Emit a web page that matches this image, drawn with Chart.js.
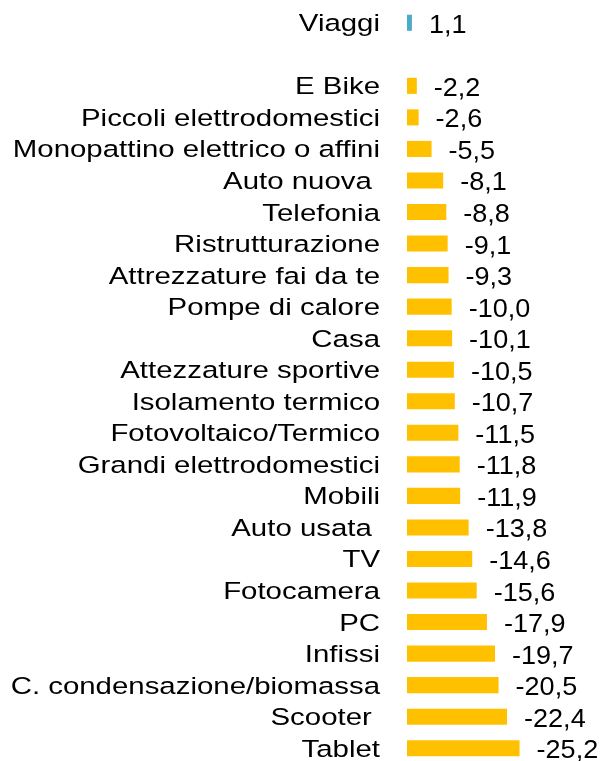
<!DOCTYPE html>
<html>
<head>
<meta charset="utf-8">
<script src="https://cdn.jsdelivr.net/npm/chart.js@4"></script>
<style>
  html, body { margin: 0; padding: 0; background: #fff; overflow: hidden; }
  #wrap { position: absolute; left: 0; top: 0; width: 603px; height: 764px; }
</style>
</head>
<body>
<div id="wrap"><canvas id="chart"></canvas></div>
<script>
// categorie (la riga vuota separa Viaggi dal resto)
const categories = [
  'Viaggi', '', 'E Bike', 'Piccoli elettrodomestici', 'Monopattino elettrico o affini',
  'Auto nuova ', 'Telefonia', 'Ristrutturazione', 'Attrezzature fai da te',
  'Pompe di calore', 'Casa', 'Attezzature sportive', 'Isolamento termico',
  'Fotovoltaico/Termico', 'Grandi elettrodomestici', 'Mobili', 'Auto usata ',
  'TV', 'Fotocamera', 'PC', 'Infissi', 'C. condensazione/biomassa', 'Scooter ', 'Tablet'
];
const values = [
  1.1, null, -2.2, -2.6, -5.5, -8.1, -8.8, -9.1, -9.3, -10.0, -10.1, -10.5, -10.7,
  -11.5, -11.8, -11.9, -13.8, -14.6, -15.6, -17.9, -19.7, -20.5, -22.4, -25.2
];
const barColors = values.map(v => (v !== null && v > 0) ? '#4BACC6' : '#FFC000');

const FONT = '"Liberation Sans", Arial, sans-serif';

// testo un po' allargato in orizzontale come nell'originale
function drawStretched(ctx, text, x, y, sx) {
  ctx.save();
  ctx.translate(x, y);
  ctx.scale(sx, 1);
  ctx.fillText(text, 0, 0);
  ctx.restore();
}

// etichette categorie + valori
const labelsPlugin = {
  id: 'labelsPlugin',
  afterDatasetsDraw(chart) {
    const ctx = chart.ctx;
    const yScale = chart.scales.y;
    const meta = chart.getDatasetMeta(0);
    ctx.save();
    ctx.fillStyle = '#000';
    ctx.textBaseline = 'alphabetic';

    ctx.font = '24.5px ' + FONT;
    ctx.textAlign = 'right';
    categories.forEach((c, i) => {
      if (!c) return;
      drawStretched(ctx, c, chart.chartArea.left - 27, yScale.getPixelForTick(i) + 8.5, 1.2);
    });

    ctx.font = '25.5px ' + FONT;
    ctx.textAlign = 'left';
    meta.data.forEach((bar, i) => {
      const v = values[i];
      if (v === null) return;
      drawStretched(ctx, v.toFixed(1).replace('.', ','), bar.x + 17, bar.y + 10, 1.06);
    });
    ctx.restore();
  }
};

new Chart(document.getElementById('chart'), {
  type: 'bar',
  data: {
    labels: categories,
    datasets: [{
      data: values.map(v => v === null ? null : Math.abs(v)),
      backgroundColor: barColors,
      barPercentage: 0.51,
      categoryPercentage: 1
    }]
  },
  options: {
    indexAxis: 'y',
    responsive: true,
    maintainAspectRatio: false,
    animation: false,
    layout: { padding: { top: 7, bottom: 0, left: 0, right: 62 } },
    plugins: {
      legend: { display: false },
      tooltip: { enabled: false }
    },
    scales: {
      x: {
        display: false,
        min: 0,
        max: 30
      },
      y: {
        grid: { display: false, drawTicks: false },
        border: { display: false },
        ticks: { display: false },
        afterFit(scale) {
          scale.width = 407;
          scale.paddingTop = 0;
          scale.paddingBottom = 0;
        }
      }
    }
  },
  plugins: [labelsPlugin]
});
</script>
</body>
</html>
